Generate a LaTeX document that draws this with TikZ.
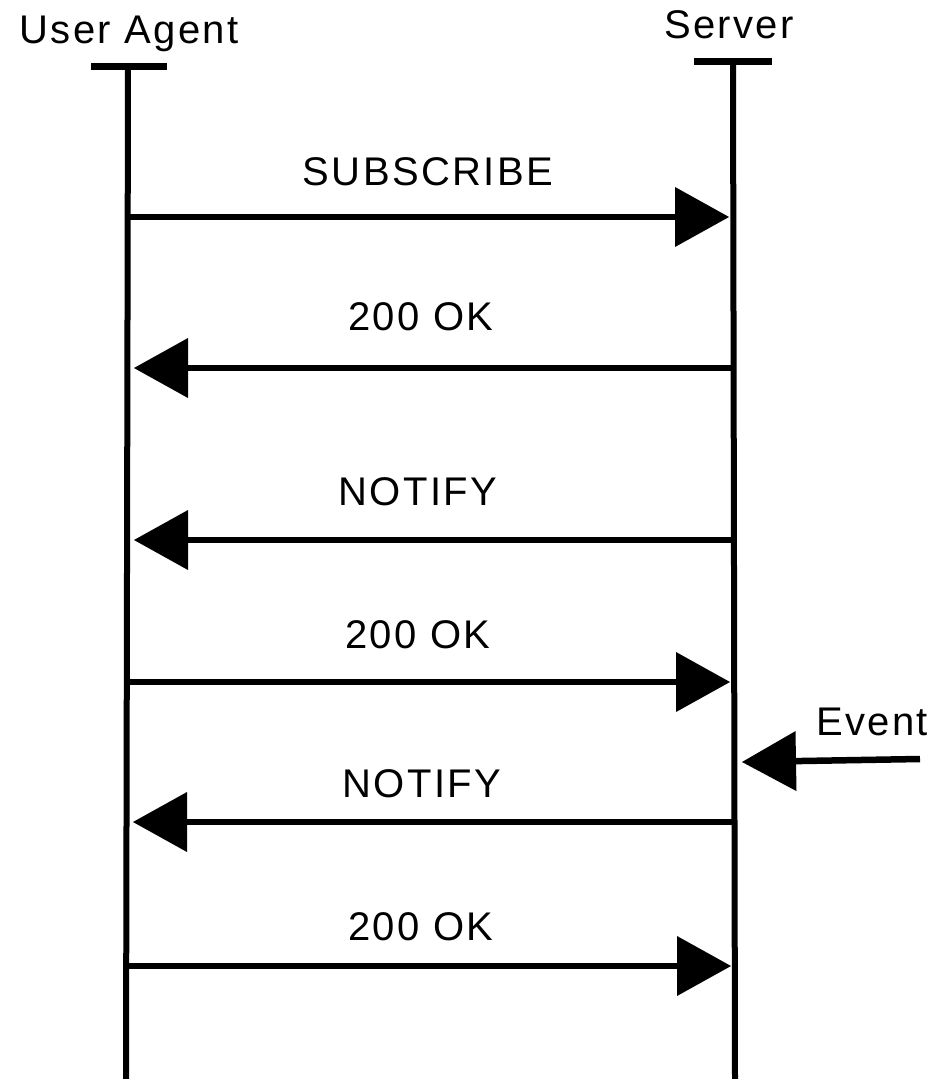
\documentclass[tikz,border=0pt]{standalone}
\usepackage{fontspec}
\setmainfont{Liberation Sans}[LetterSpace=6]
\usetikzlibrary{arrows.meta}
\begin{document}
\begin{tikzpicture}[x=1pt,y=-1pt,
  lifeline/.style={line width=6pt},
  headbar/.style={line width=7pt},
  msg/.style={line width=6.5pt,
    -{Triangle[length=54pt,width=60pt,line width=0pt]}},
  label/.style={font=\fontsize{40}{40}\selectfont, anchor=base, inner sep=0pt}]
  \useasboundingbox[fill=white] (0,0) rectangle (935,1079);

  % participants
  \node[label] (ua) at (129,43) {User Agent};
  \node[label] (sv) at (729,38) {Server};

  % head bars
  \coordinate (uaL) at (91,66);  \coordinate (uaR) at (167,66);
  \coordinate (svL) at (694,61); \coordinate (svR) at (772,61);
  \draw[headbar] (uaL) -- (uaR);
  \draw[headbar] (svL) -- (svR);

  % lifelines
  \coordinate (uaTop) at (128,66);  \coordinate (uaBot) at (126,1079);
  \coordinate (svTop) at (733,61);  \coordinate (svBot) at (735,1079);
  \draw[lifeline] (uaTop) -- (uaBot);
  \draw[lifeline] (svTop) -- (svBot);

  % message anchors on each lifeline
  \coordinate (ua1) at (128,217);  \coordinate (sv1) at (729,217);
  \coordinate (ua2) at (134,368);  \coordinate (sv2) at (733,368);
  \coordinate (ua3) at (134,540);  \coordinate (sv3) at (733,540);
  \coordinate (ua4) at (127,682);  \coordinate (sv4) at (730,682);
  \coordinate (ua5) at (133,822);  \coordinate (sv5) at (734,822);
  \coordinate (ua6) at (127,966);  \coordinate (sv6) at (731,966);

  % messages
  \draw[msg] (ua1) -- (sv1);
  \draw[msg] (sv2) -- (ua2);
  \draw[msg] (sv3) -- (ua3);
  \draw[msg] (ua4) -- (sv4);
  \draw[msg] (sv5) -- (ua5);
  \draw[msg] (ua6) -- (sv6);

  \node[label] (m1) at (428,185) {SUBSCRIBE};
  \node[label] (m2) at (421,330) {200 OK};
  \node[label] (m3) at (418,505) {NOTIFY};
  \node[label] (m4) at (418,648) {200 OK};
  \node[label] (m5) at (422,797) {NOTIFY};
  \node[label] (m6) at (421,940) {200 OK};

  % external event
  \coordinate (evSrc) at (920,759);
  \coordinate (evTip) at (742,762);
  \draw[msg] (evSrc) -- (evTip);
  \node[label, anchor=base west] (ev) at (816,735) {Event};
\end{tikzpicture}
\end{document}
